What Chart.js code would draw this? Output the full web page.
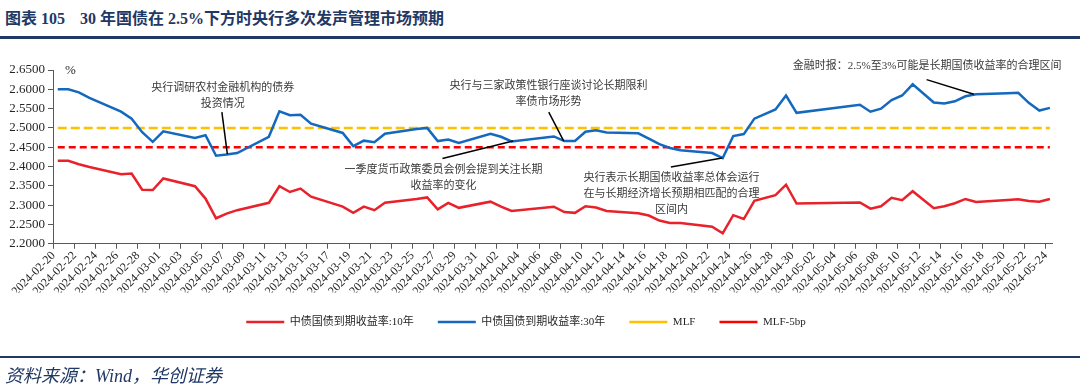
<!DOCTYPE html>
<html>
<head>
<meta charset="utf-8">
<script src="https://cdn.jsdelivr.net/npm/chart.js@4.4.1/dist/chart.umd.min.js"></script>
<style>
  html, body { margin: 0; padding: 0; background: #fff; }
  #wrap { position: relative; width: 1080px; height: 385px; overflow: hidden; }
  .title { position: absolute; top: 5px; font: bold 16px "Liberation Serif", "Noto Sans CJK SC", serif; color: #1F3864; white-space: pre; }
  #t1 { left: 5px; }
  #t2 { left: 80px; }
  #rule1 { position: absolute; left: 0; top: 36px; width: 1080px; height: 3px; background: #1F3864; }
  #rule2 { position: absolute; left: 0; top: 356px; width: 1080px; height: 2px; background: #1F3864; }
  #source { position: absolute; left: 5px; top: 361px; font: italic 18px "Liberation Serif", "Noto Sans CJK SC", serif; color: #1F3864; white-space: pre; }
  #c { position: absolute; left: 0; top: 0; }
</style>
</head>
<body>
<div id="wrap">
  <div class="title" id="t1">图表 105</div>
  <div class="title" id="t2">30 年国债在 2.5%下方时央行多次发声管理市场预期</div>
  <div id="rule1"></div>
  <canvas id="c" width="1080" height="385"></canvas>
  <div id="rule2"></div>
  <div id="source">资料来源：Wind，华创证券</div>
</div>
<script>
// trading days, 2024
var dates = ['02-20','02-21','02-22','02-23','02-26','02-27','02-28','02-29','03-01',
  '03-04','03-05','03-06','03-07','03-08','03-11','03-12','03-13','03-14','03-15',
  '03-18','03-19','03-20','03-21','03-22','03-25','03-26','03-27','03-28','03-29',
  '04-01','04-02','04-03','04-07','04-08','04-09','04-10','04-11','04-12',
  '04-15','04-16','04-17','04-18','04-19','04-22','04-23','04-24','04-25','04-26',
  '04-28','04-29','04-30','05-06','05-07','05-08','05-09','05-10','05-11',
  '05-13','05-14','05-15','05-16','05-17','05-20','05-21','05-22','05-23','05-24'];

var yield10y = [2.415,2.415,2.406,2.399,2.380,2.382,2.340,2.339,2.369,
  2.349,2.317,2.266,2.278,2.287,2.306,2.349,2.334,2.343,2.322,
  2.296,2.280,2.296,2.287,2.306,2.316,2.320,2.289,2.306,2.293,
  2.309,2.296,2.285,2.296,2.282,2.280,2.297,2.294,2.285,
  2.279,2.273,2.260,2.254,2.254,2.244,2.227,2.274,2.264,2.311,
  2.326,2.353,2.304,2.307,2.291,2.297,2.319,2.313,2.336,
  2.292,2.297,2.305,2.316,2.308,2.313,2.315,2.311,2.309,2.316];

var yield30y = [2.600,2.600,2.592,2.578,2.542,2.524,2.489,2.464,2.491,
  2.474,2.481,2.428,2.431,2.435,2.477,2.543,2.533,2.534,2.511,
  2.487,2.453,2.467,2.463,2.485,2.497,2.500,2.466,2.470,2.461,
  2.485,2.477,2.465,2.478,2.466,2.466,2.490,2.494,2.488,
  2.486,2.472,2.458,2.448,2.442,2.435,2.422,2.479,2.484,2.524,
  2.548,2.584,2.539,2.560,2.542,2.550,2.572,2.584,2.613,
  2.566,2.563,2.569,2.582,2.587,2.590,2.591,2.565,2.545,2.552];

var mlf = 2.50;
var mlfMinus5bp = 2.45;

var seriesNames = ['中债国债到期收益率:10年', '中债国债到期收益率:30年', 'MLF', 'MLF-5bp'];

// annotations: text lines, text centre [day, value], leader line from/to [day, value]
var notes = [
  { lines: ['央行调研农村金融机构的债券', '投资情况'], at: [15.63, 2.604], from: [15.55, 2.541], to: [16.07, 2.432] },
  { lines: ['央行与三家政策性银行座谈讨论长期限利', '率债市场形势'], at: [46.5, 2.609], from: [46.52, 2.541], to: [47.94, 2.466] },
  { lines: ['一季度货币政策委员会例会提到关注长期', '收益率的变化'], at: [36.54, 2.392], from: [36.45, 2.421], to: [43.14, 2.466] },
  { lines: ['央行表示长期国债收益率总体会运行', '在与长期经济增长预期相匹配的合理', '区间内'], at: [58.15, 2.369], from: [58.09, 2.399], to: [62.95, 2.422] },
  { lines: ['金融时报：2.5%至3%可能是长期国债收益率的合理区间'], at: [82.37, 2.660], from: [82.32, 2.625], to: [86.8, 2.587] }
];

var start = Date.UTC(2024, 1, 20);
var dayMs = 86400000;
function dayIndex(md) {
  var p = md.split('-');
  return (Date.UTC(2024, +p[0] - 1, +p[1]) - start) / dayMs;
}
function pad(n) { return n < 10 ? '0' + n : '' + n; }
function dateLabel(idx) {
  var t = new Date(start + idx * dayMs);
  return t.getUTCFullYear() + '-' + pad(t.getUTCMonth() + 1) + '-' + pad(t.getUTCDate());
}
function points(values) {
  return dates.map(function (d, i) { return { x: dayIndex(d), y: values[i] }; });
}
function flat(v) {
  return [{ x: dayIndex(dates[0]), y: v }, { x: dayIndex(dates[dates.length - 1]), y: v }];
}

var fontFamily = '"Liberation Serif", "Noto Sans CJK SC", serif';
var lastDay = dayIndex(dates[dates.length - 1]);

var notesPlugin = {
  id: 'notes',
  afterDatasetsDraw: function (chart) {
    var ctx = chart.ctx, xs = chart.scales.x, ys = chart.scales.y;
    ctx.save();
    // unit
    ctx.fillStyle = '#262626';
    ctx.font = '13px ' + fontFamily;
    ctx.textAlign = 'left';
    ctx.textBaseline = 'middle';
    ctx.fillText('%', chart.chartArea.left + 12, chart.chartArea.top + 1);

    notes.forEach(function (n) {
      ctx.strokeStyle = '#000';
      ctx.lineWidth = 1.5;
      ctx.beginPath();
      ctx.moveTo(xs.getPixelForValue(n.from[0]), ys.getPixelForValue(n.from[1]));
      ctx.lineTo(xs.getPixelForValue(n.to[0]), ys.getPixelForValue(n.to[1]));
      ctx.stroke();
      ctx.fillStyle = '#3a3a3a';
      ctx.font = '11px ' + fontFamily;
      ctx.textAlign = 'center';
      ctx.textBaseline = 'middle';
      var cx = xs.getPixelForValue(n.at[0]), cy = ys.getPixelForValue(n.at[1]);
      n.lines.forEach(function (t, i) { ctx.fillText(t, cx, cy + i * 16); });
    });
    ctx.restore();
  }
};

var ctx = document.getElementById('c').getContext('2d');
var chart = new Chart(ctx, {
  type: 'line',
  data: {
    datasets: [
      { label: seriesNames[0], data: points(yield10y), borderColor: '#E8212B', backgroundColor: '#E8212B', borderWidth: 2.5, pointRadius: 0, tension: 0 },
      { label: seriesNames[1], data: points(yield30y), borderColor: '#1469BF', backgroundColor: '#1469BF', borderWidth: 2.5, pointRadius: 0, tension: 0 },
      { label: seriesNames[2], data: flat(mlf), borderColor: '#FFC000', backgroundColor: '#FFC000', borderWidth: 2.5, borderDash: [9, 4], pointRadius: 0 },
      { label: seriesNames[3], data: flat(mlfMinus5bp), borderColor: '#FF0000', backgroundColor: '#FF0000', borderWidth: 2.5, borderDash: [7, 4], pointRadius: 0 }
    ]
  },
  options: {
    responsive: false,
    animation: false,
    layout: { padding: { top: 70, left: 0, right: 28, bottom: 47.5 } },
    plugins: {
      tooltip: { enabled: false },
      legend: {
        display: true,
        position: 'bottom',
        labels: {
          usePointStyle: true,
          pointStyle: 'line',
          pointStyleWidth: 38,
          padding: 24,
          color: '#262626',
          font: { family: fontFamily, size: 11 }
        }
      }
    },
    scales: {
      x: {
        type: 'linear',
        min: -0.45,
        max: lastDay + 0.2,
        afterBuildTicks: function (s) {
          var t = [];
          for (var d = 0; d <= lastDay; d += 2) t.push({ value: d - 0.4 });
          s.ticks = t;
        },
        afterFit: function (s) { s.height = 48.75; },
        ticks: {
          autoSkip: false,
          minRotation: 45,
          maxRotation: 45,
          padding: 0,
          color: '#262626',
          font: { family: fontFamily, size: 12 },
          callback: function (v) { return dateLabel(Math.round(v + 0.4)); }
        },
        grid: { display: true, drawOnChartArea: false, drawTicks: true, tickLength: 5, color: '#595959' },
        border: { display: true, color: '#595959', width: 1 }
      },
      y: {
        min: 2.2,
        max: 2.65,
        afterFit: function (s) { s.width = 53; },
        ticks: {
          stepSize: 0.05,
          padding: 3,
          color: '#262626',
          font: { family: fontFamily, size: 13 },
          callback: function (v) { return v.toFixed(4); }
        },
        grid: { display: true, drawOnChartArea: false, drawTicks: true, tickLength: 5, color: '#595959' },
        border: { display: true, color: '#595959', width: 1 }
      }
    }
  },
  plugins: [notesPlugin]
});
</script>
</body>
</html>
